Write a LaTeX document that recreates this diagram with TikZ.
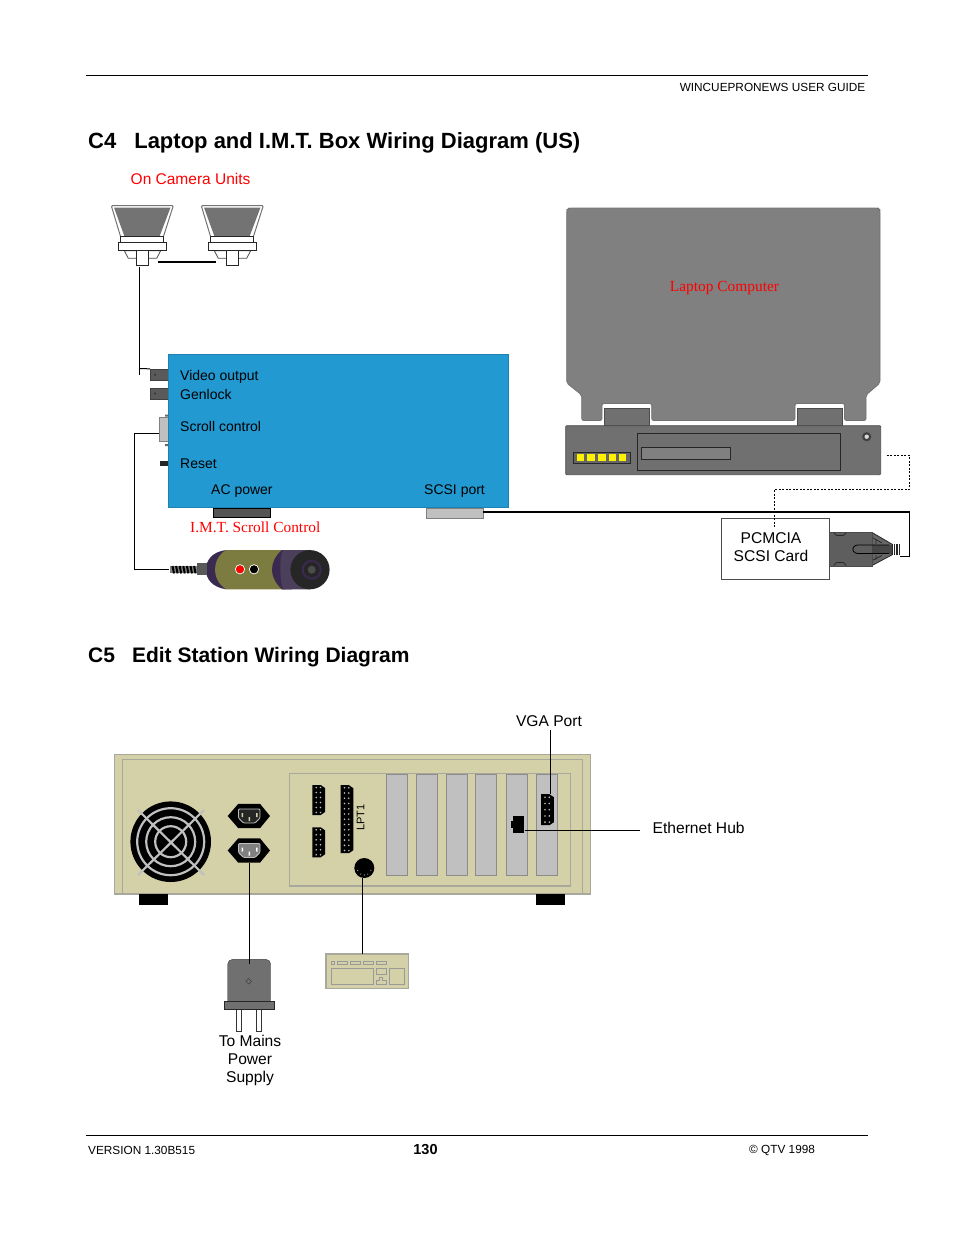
\documentclass[tikz,border=0pt]{standalone}
\usepackage{fontspec}
\setmainfont{Liberation Sans}
\newfontfamily\capfont{Liberation Serif}
\usetikzlibrary{calc}
\definecolor{boxblue}{HTML}{2299D0}
\definecolor{casetan}{HTML}{D4D0A8}
\definecolor{caseedge}{HTML}{A8A89C}
\definecolor{lidgray}{HTML}{808080}
\definecolor{basegray}{HTML}{707070}
\definecolor{slotgray}{HTML}{C0C0C0}
\definecolor{olive}{HTML}{7C7C40}
\definecolor{endpurple}{HTML}{3A2A50}
\begin{document}
\begin{tikzpicture}[x=1pt,y=-1pt,
    label/.style={inner sep=0pt, font=\fontsize{14}{17}\selectfont},
    biglabel/.style={inner sep=0pt, align=center, font=\fontsize{15.6}{18.2}\selectfont},
    small/.style={inner sep=0pt, font=\fontsize{11.8}{14}\selectfont},
    heading/.style={inner sep=0pt, anchor=west, font=\fontsize{22}{26}\bfseries\selectfont},
    redcap/.style={inner sep=0pt, text=red, font=\capfont\fontsize{15.4}{18}\selectfont},
    block/.style={draw, inner sep=0pt, rectangle},
    slotcard/.style={block, draw=black!45, fill=slotgray, line width=1pt},
    wire/.style={black, line width=1pt},
    fatwire/.style={black, line width=1.6pt}]
    \useasboundingbox (0,0) rectangle (954,1235);

    % page furniture
    \coordinate (topL) at (86,75);
    \coordinate (topR) at (868,75);
    \coordinate (botL) at (86,1135);
    \coordinate (botR) at (868,1135);
    \draw[wire] (topL) -- (topR);
    \draw[wire] (botL) -- (botR);
    \node[small, anchor=east] (guide) at (865.5,87) {WINCUEPRONEWS USER GUIDE};
    \node[small, anchor=west] (version) at (88,1150) {VERSION 1.30B515};
    \node[inner sep=0pt, font=\fontsize{14.5}{17}\bfseries\selectfont] (page) at (425.5,1150) {130};
    \node[small, anchor=west] (qtv) at (749,1150) {\textcopyright{} QTV 1998};
    \node[heading] (titleA) at (88,142.5) {C4\hspace{18pt}Laptop and I.M.T. Box Wiring Diagram (US)};
    \node[heading, font=\fontsize{21}{25}\bfseries\selectfont] (titleB) at (88,657.5) {C5\hspace{17pt}Edit Station Wiring Diagram};
    \node[inner sep=0pt, anchor=west, text=red, font=\fontsize{15.5}{18}\selectfont] (oncam) at (130.5,179) {On Camera Units};

    % camera units
    \foreach \spx/\spname in {0/spA,90/spB} {
        \begin{scope}[shift={(\spx,0)}]
            \draw[black!55, fill=white, line width=1pt, rounded corners=1pt] (111.3,205.7) -- (173.3,205.7) -- (163.3,237) -- (120.7,237) -- cycle;
            \fill[black!55] (114,207.5) -- (170.5,207.5) -- (159.5,236.5) -- (124.5,236.5) -- cycle;
            \draw[black!70, fill=white, line width=.8pt] (124.3,250.7) -- (160.7,250.7) -- (156.7,258.3) -- (128.3,258.3) -- cycle;
            \draw[black!85, fill=white, line width=.8pt] (120.7,236.7) rectangle (163.3,242.7);
            \draw[black!85, fill=white, line width=.8pt] (118.3,242.7) rectangle (166,250.7);
            \node[block, draw=black!85, fill=white, line width=.8pt, minimum width=12.7pt, minimum height=15pt] (\spname) at (142.3,258.2) {};
        \end{scope}
    }
    \draw[fatwire] ($(spA.east)+(8.5,3.5)$) -- ($(spB.west)+(-10,3.5)$);

    % I.M.T. box
    \node[block, draw=black!75, fill=black!30!lidgray, minimum width=18.4pt, minimum height=11.3pt] (video) at (159.5,374.7) {};
    \node[block, draw=black!75, fill=black!30!lidgray, minimum width=18.4pt, minimum height=11.6pt] (genlock) at (159.5,393.5) {};
    \fill[black!80] (155,374.7) circle (1.2) (155,393.5) circle (1.2);
    \node[block, draw=black!50, fill=slotgray, minimum width=9.4pt, minimum height=23.4pt] (scroll) at (164,429) {};
    \fill[black!60] (165,414.5) rectangle (168.5,416.5) (165,444) rectangle (168.5,446);
    \node[block, draw=none, fill=black!85, minimum width=8.7pt, minimum height=4.7pt] (reset) at (164.3,463.3) {};
    \node[block, draw=black, fill=black!67, minimum width=56.4pt, minimum height=9.4pt] (acpower) at (241.5,512.7) {};
    \node[block, draw=black!50, fill=slotgray, minimum width=57pt, minimum height=10pt] (scsi) at (454.5,513) {};
    \node[block, draw=boxblue!85!black, fill=boxblue, minimum width=340.4pt, minimum height=153.6pt, line width=.8pt] (imt) at (338.3,431) {};
    \node[label, anchor=west] (lvideo) at (180,376.5) {Video output};
    \node[label, anchor=west] (lgenlock) at (180,394.5) {Genlock};
    \node[label, anchor=west] (lscroll) at (180,426.5) {Scroll control};
    \node[label, anchor=west] (lreset) at (180,463.5) {Reset};
    \node[label, anchor=west] (lac) at (211,491) {AC power};
    \node[label, anchor=west] (lscsi) at (424,491) {SCSI port};
    \node[redcap] (limt) at (255.3,527.3) {I.M.T. Scroll Control};

    % hand control
    \fill[endpurple] (226,550) .. controls (212,552) and (206,560) .. (206,569.7) .. controls (206,579) and (212,587) .. (226,589.3) -- cycle;
    \fill[olive] (226,550) -- (285,550) -- (285,589.3) -- (226,589.3) .. controls (218,584) and (215,576) .. (215,569.7) .. controls (215,563) and (218,555) .. (226,550) -- cycle;
    \fill[endpurple] (282,550) .. controls (275,556) and (272,563) .. (272,569.7) .. controls (272,576) and (275,583) .. (282,589.3) -- (292,589.3) -- (292,550) -- cycle;
    \fill[endpurple!75!lidgray] (283,550) .. controls (279,556) and (280,583) .. (283,589.3) -- (310,589.3) -- (310,550) -- cycle;
    \fill[black!85] (310,569.7) circle (19.6);
    \draw[endpurple, line width=2pt] (311.7,569.7) circle (9);
    \fill[black!70] (311.7,569.7) circle (4);
    \node[block, draw=none, fill=black!65, minimum width=10pt, minimum height=11.7pt] (neck) at (201.7,569.3) {};
    \node[block, draw=none, fill=black!50, minimum width=27pt, minimum height=7pt] (spring) at (183,569.7) {};
    \foreach \k in {0,...,6} {
        \draw[black, line width=2pt] ($(172.5,566)+(\k*3.6,0)$) -- ++(1.5,7.4);
    }
    \draw[white, line width=.8pt] (240,569.3) circle (4.6) (254,569.3) circle (4.6);
    \fill[red] (240,569.3) circle (4);
    \fill[black] (254,569.3) circle (4);

    % wiring round the box
    \coordinate (spdrop) at (139.5,267);
    \coordinate (spend) at (139.5,375);
    \coordinate (videotap) at (139.5,368.5);
    \draw[wire] (spdrop) -- (spend);
    \draw[wire] (videotap) -- (video.north west);
    \draw[wire] (scroll.west) ++(0,4.3) -- (134.7,433.3) |- (spring.west);

    % laptop
    \draw[black!55, fill=lidgray, line width=.8pt, rounded corners=2pt] (569,208) -- (878,208) -- (880,210) -- (880,383) -- (866,395) -- (866,420.5) -- (844.5,420.5) -- (844.5,403.5) -- (795,403.5) -- (795,420.5) -- (651.7,420.5) -- (651.7,403.5) -- (602,403.5) -- (602,420.5) -- (581.7,420.5) -- (581.7,395) -- (566.7,383) -- (566.7,210) -- cycle;
    \node[redcap] (llaptop) at (724.5,288.5) {Laptop Computer};
    \node[block, draw=black!70, fill=basegray, minimum width=45pt, minimum height=17pt] (hingeL) at (626.7,417) {};
    \node[block, draw=black!70, fill=basegray, minimum width=45pt, minimum height=17pt] (hingeR) at (819.8,417) {};
    \node[block, draw=black!70, fill=basegray, rounded corners=1pt, minimum width=315pt, minimum height=49pt, line width=.8pt] (base) at (723.2,450.2) {};
    \node[block, draw=black!85, fill=basegray, minimum width=202.7pt, minimum height=36.7pt] (bay) at (738.7,451.7) {};
    \node[block, draw=black!85, fill=lidgray, minimum width=88.3pt, minimum height=11.4pt] (slot) at (685.8,453) {};
    \node[block, draw=black!85, fill=black!60, minimum width=56.4pt, minimum height=11.6pt] (leds) at (601.5,457.5) {};
    \foreach \ledx in {576.7,587.3,598.3,608.7,619} {
        \fill[yellow] (\ledx,454.3) rectangle ++(7.3,6.7);
    }
    \fill[black!75] (866.7,436.7) circle (4.6);
    \fill[black!15] (866.7,436.7) circle (2.2);

    % SCSI card and plug
    \node[block, draw=black!70, fill=white, line width=.8pt, minimum width=108pt, minimum height=61pt] (card) at (775.3,548.8) {};
    \fill[black!60] (871.7,532.3) -- (891.7,544) -- (891.7,555) -- (871.7,565.7) -- cycle;
    \draw[black!85, line width=.8pt] (871.7,532.3) -- (891.7,544) -- (891.7,555) -- (871.7,565.7);
    \node[block, draw=black!70, fill=black!63, minimum width=42.4pt, minimum height=33.4pt] (plug) at (850.5,549) {};
    \fill[black!72] (871.7,545) rectangle (891.7,553.5);
    \draw[black, line width=.8pt, rounded corners=2.5pt] (889,545) -- (855,545) -- (852,549.2) -- (855,553.5) -- (889,553.5);
    \draw[black!85, line width=.7pt] (873,538) -- (882,543) (873,560) -- (882,555.5) (876,539) -- (876,544) (876,555) -- (876,559.5);
    \draw[black!85, line width=.7pt, rounded corners=1pt] (834,532.5) -- (836,535.5) -- (844,535.5) -- (846,532.5) (834,565.5) -- (836,562.5) -- (844,562.5) -- (846,565.5);
    \node[block, draw=none, fill=black!85, minimum width=8.4pt, minimum height=11pt] (plugend) at (895.8,549.5) {};
    \foreach \k in {0,...,2} {
        \draw[white, line width=.6pt] ($(893.5,544)+(\k*2.2,0)$) -- ++(0,11);
    }
    \coordinate (scsicorner) at (909.5,512);
    \coordinate (scsidown) at (909.5,556);
    \coordinate (cardtop) at (774.5,528);
    \coordinate (dashA) at (886.7,455.3);
    \coordinate (dashB) at (909.5,455.3);
    \coordinate (dashC) at (909.5,489);
    \coordinate (dashD) at (774.5,489);
    \draw[fatwire] (scsi.east |- scsicorner) -- (scsicorner);
    \draw[wire] (scsicorner) -- (scsidown) -- (plugend.east |- scsidown);
    \draw[black, line width=.7pt, dash pattern=on 2pt off 1.5pt] (dashA) -- (dashB) -- (dashC) -- (dashD) -- (cardtop);
    \node[biglabel] (lpcmcia) at (771,547) {PCMCIA\\SCSI Card};

    % edit station case
    \node[block, draw=caseedge, fill=casetan, line width=1.2pt, minimum width=476.4pt, minimum height=139.6pt] (pccase) at (352.5,824.2) {};
    \draw[caseedge, line width=1.2pt] (122.7,894) -- (122.7,759.3) -- (582.3,759.3) -- (582.3,894);
    \node[block, draw=caseedge, fill=casetan, line width=1.2pt, minimum width=281.4pt, minimum height=112.7pt] (panel) at (430,829.7) {};
    \node[block, draw=none, fill=black, minimum width=29.3pt, minimum height=11pt] (footL) at (153.7,899.8) {};
    \node[block, draw=none, fill=black, minimum width=29pt, minimum height=11pt] (footR) at (550.8,899.8) {};
    \foreach \cardx [count=\n] in {397.3,426.7,457.2,486.3,516.8,547.3} {
        \node[slotcard, minimum width=21pt, minimum height=101.3pt] (slot\n) at (\cardx,824.7) {};
    }

    % fan
    \fill[black] (170.7,841.7) circle (40.3);
    \draw[slotgray, line width=2.2pt] (170.7,841.7) circle (33.5) (170.7,841.7) circle (24.5) (170.7,841.7) circle (15.5);
    \draw[slotgray, line width=2.2pt] (138,810) -- (204,875) (204,810) -- (138,875);

    % mains sockets
    \foreach \sockname/\sockY/\sockfill/\pinfill in {sockA/816/black!85/casetan,sockB/850.5/lidgray/white} {
        \fill[black] (227.7,\sockY) -- (238.3,\sockY-12.2) -- (260,\sockY-12.2) -- (270,\sockY) -- (260,\sockY+12.2) -- (238.3,\sockY+12.2) -- cycle;
        \draw[slotgray, fill=\sockfill, line width=.8pt, rounded corners=1pt] (238.5,\sockY-7) -- (260,\sockY-7) -- (260,\sockY+2) -- (255,\sockY+7) -- (243.5,\sockY+7) -- (238.5,\sockY+2) -- cycle;
        \fill[\pinfill] (241.5,\sockY-3) rectangle ++(1.5,4) (256,\sockY-3) rectangle ++(1.5,4) (248.7,\sockY+1) rectangle ++(1.5,4);
        \coordinate (\sockname) at (249.3,\sockY+12.2);
    }

    % ports on the panel
    \foreach \dbname/\dbx/\dby/\dbh/\dbrows in {dbA/318.7/800/30/6,dbB/318.7/842.3/30/6,lpt/347/819.2/68/13,vga/547.5/809.7/31/5} {
        \fill[black] (\dbx-6.3,\dby-\dbh/2) -- (\dbx+2,\dby-\dbh/2) -- (\dbx+6.3,\dby-\dbh/2+3) -- (\dbx+6.3,\dby+\dbh/2-3) -- (\dbx+2,\dby+\dbh/2) -- (\dbx-6.3,\dby+\dbh/2) -- cycle;
        \foreach \r in {1,...,\dbrows} {
            \fill[slotgray] (\dbx-2.5,{\dby-\dbh/2+(\r-.5)*\dbh/\dbrows}) circle (.9);
            \fill[slotgray] (\dbx+1.8,{\dby-\dbh/2+(\r-.5)*\dbh/\dbrows}) circle (.9);
        }
        \coordinate (\dbname) at (\dbx,\dby-\dbh/2);
    }
    \node[inner sep=0pt, rotate=90, font=\fontsize{11}{13}\selectfont] (llpt) at (360.5,817.5) {LPT1};
    \node[circle, fill=black, inner sep=0pt, minimum size=20pt] (din) at (364.3,868) {};
    \foreach \a in {20,60,90,120,160} {
        \fill[slotgray] ($(din)+(\a:7)$) circle (.6);
    }
    \node[block, draw=none, fill=black, minimum width=11pt, minimum height=17.6pt] (rj) at (518.8,824.5) {};
    \fill[black] (510.7,821) rectangle (514,828);

    % plug and keyboard
    \draw[black!80, fill=white] (236.3,1008) rectangle (241,1031.3) (256,1008) rectangle (261,1031.3);
    \draw[black!75, fill=basegray, rounded corners=5pt] (227.7,1001) -- (227.7,959.3) -- (270.7,959.3) -- (270.7,1001);
    \node[block, draw=black!85, fill=basegray, minimum width=50pt, minimum height=8pt] (flange) at (249.3,1004.7) {};
    \coordinate (plugtop) at (249.3,963.5);
    \draw[black!80] (248.7,978.5) -- (251.5,981.3) -- (248.7,984.1) -- (245.9,981.3) -- cycle;
    \node[block, draw=caseedge, fill=casetan, line width=1.2pt, minimum width=82.7pt, minimum height=34.7pt] (keyboard) at (367.3,971.3) {};
    \draw[black!40, line width=.8pt] (331.3,961.7) rectangle (334,964.7) (337.3,961.7) rectangle (347,964.7) (350,961.7) rectangle (360,964.7) (363.3,961.7) rectangle (373.3,964.7) (376,961.7) rectangle (386,964.7);
    \draw[black!40, line width=.8pt] (331,968.3) rectangle (373.3,984.3) (376,968.3) rectangle (386,974.3) (389,968.3) rectangle (404,984.3);
    \draw[black!40, line width=.8pt] (376,984.3) -- (376,980) -- (379.5,980) -- (379.5,977.5) -- (382.5,977.5) -- (382.5,980) -- (386,980) -- (386,984.3) -- cycle;

    % wiring of the station
    \coordinate (vgatop) at (550,730);
    \coordinate (hubend) at (640,830.3);
    \draw[wire] (vgatop) -- (vgatop |- vga);
    \draw[wire] (rj.east |- hubend) -- (hubend);
    \draw[wire] (sockB) -- (plugtop);
    \draw[wire] (din.south -| 362.7,0) -- (362.7,954);
    \node[biglabel] (lvga) at (549,721) {VGA Port};
    \node[biglabel, anchor=west] (lhub) at (652.5,828) {Ethernet Hub};
    \node[biglabel] (lmains) at (250,1060.5) {To Mains\\Power\\Supply};
\end{tikzpicture}
\end{document}
